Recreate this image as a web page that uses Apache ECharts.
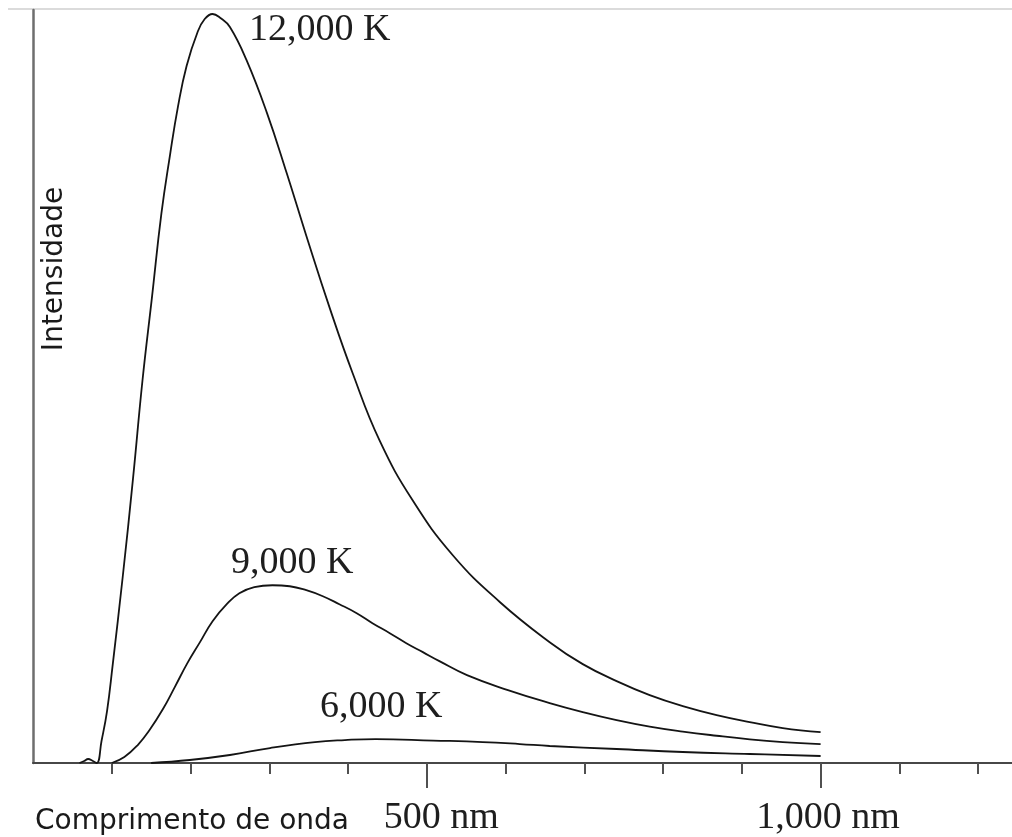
<!DOCTYPE html>
<html>
<head>
<meta charset="utf-8">
<script src="https://cdn.jsdelivr.net/npm/echarts@6/dist/echarts.min.js"></script>
<style>
  html, body { margin: 0; padding: 0; background: #fff; }
  #chart { width: 1012px; height: 837px; }
</style>
</head>
<body>
<div id="chart"></div>
<script>
// Blackbody spectral intensity curves, [wavelength (nm), relative intensity]
const curve12000K = [
  [59, 0], [65, 2], [70, 4], [76, 2], [81, 0], [87, 22], [94, 52], [101, 97],
  [114, 187], [127, 285], [139, 383], [151, 466], [163, 550], [174, 609],
  [184, 657], [195, 698], [209, 732], [218, 745], [228, 750], [238, 746],
  [250, 737], [271, 704], [297, 651], [322, 591], [347, 528], [377, 455],
  [406, 390], [440, 323], [482, 263], [533, 208], [593, 161], [656, 121],
  [698, 99], [741, 82], [783, 68], [825, 57], [868, 48], [910, 41],
  [952, 35], [1000, 31]
];
const curve9000K = [
  [100, 0], [116, 6], [133, 18], [148, 33], [165, 54], [180, 76], [196, 100],
  [212, 121], [228, 142], [246, 159], [262, 170], [281, 176], [304, 178],
  [326, 177], [347, 173], [368, 167], [389, 159], [411, 150], [431, 140],
  [453, 130], [474, 120], [495, 111], [516, 102], [551, 88], [603, 73],
  [656, 60], [698, 51], [741, 43], [783, 36.5], [825, 31.5], [868, 27.3],
  [910, 23.7], [952, 21], [1000, 19]
];
const curve6000K = [
  [150, 0], [199, 3], [250, 8], [301, 15], [358, 21], [396, 23], [435, 24],
  [508, 22.5], [571, 21], [618, 19], [656, 17], [741, 14], [825, 11],
  [910, 9], [1000, 7]
];

const seriesNames = ['12,000 K', '9,000 K', '6,000 K'];
// where each temperature caption sits, in data units
const captionAt = [[364, 734], [329, 200], [442, 56]];

const minorTickValues = [100, 200, 300, 400, 500, 600, 700, 800, 900, 1000, 1100, 1200];
const majorTickValues = [500, 1000];
const majorTickLabels = ['500 nm', '1,000 nm'];

const xLabel = 'Comprimento de onda';
const yLabel = 'Intensidade';

const serif = '"Liberation Serif", "Times New Roman", serif';
const sans = '"DejaVu Sans", sans-serif';

const chart = echarts.init(document.getElementById('chart'), null, { renderer: 'canvas' });

function curveSeries(name, data, at) {
  return {
    name: name,
    type: 'line',
    xAxisIndex: 0,
    data: data,
    showSymbol: false,
    smooth: 0.45,
    lineStyle: { color: '#141414', width: 1.8 },
    silent: true,
    markPoint: {
      silent: true,
      symbol: 'circle',
      symbolSize: 1,
      itemStyle: { color: 'rgba(0,0,0,0)' },
      label: {
        show: true,
        position: 'inside',
        formatter: name,
        fontFamily: serif,
        fontSize: 38,
        color: '#1e1e1e'
      },
      data: [{ coord: at }]
    }
  };
}

const option = {
  animation: false,
  backgroundColor: '#ffffff',
  grid: { left: 33, right: 0, top: 10, bottom: 73, containLabel: false },
  xAxis: [
    {
      type: 'value',
      min: 0,
      max: 1243,
      interval: 100,
      position: 'bottom',
      axisLine: { show: true, onZero: false, lineStyle: { color: '#474747', width: 2 } },
      axisTick: {
        show: true,
        customValues: minorTickValues,
        length: 11,
        lineStyle: { color: '#505050', width: 2 }
      },
      axisLabel: { show: false },
      splitLine: { show: false }
    },
    {
      type: 'value',
      min: 0,
      max: 1243,
      position: 'bottom',
      axisLine: { show: false, onZero: false },
      axisTick: {
        show: true,
        customValues: majorTickValues,
        length: 25,
        lineStyle: { color: '#505050', width: 2 }
      },
      axisLabel: {
        show: true,
        customValues: majorTickValues,
        margin: 36,
        formatter: function (v) {
          const i = majorTickValues.indexOf(v);
          return '{' + (i === 0 ? 'a' : 'b') + '|' + majorTickLabels[i] + '}';
        },
        rich: {
          a: { fontFamily: serif, fontSize: 38, color: '#1e1e1e', padding: [0, 0, 0, 29] },
          b: { fontFamily: serif, fontSize: 38, color: '#1e1e1e', padding: [0, 0, 0, 15] }
        }
      },
      splitLine: { show: false }
    }
  ],
  yAxis: {
    type: 'value',
    min: 0,
    max: 754,
    axisLine: { show: true, lineStyle: { color: '#6e6e6e', width: 2.5 } },
    axisTick: { show: false },
    axisLabel: { show: false },
    splitLine: { show: false }
  },
  graphic: [
    {
      type: 'line',
      silent: true,
      shape: { x1: 8, y1: 9, x2: 1012, y2: 9 },
      style: { stroke: '#cfcfcf', lineWidth: 1.5 }
    },
    {
      type: 'text',
      silent: true,
      x: 35,
      y: 822,
      style: {
        text: xLabel,
        font: '28px ' + sans,
        fill: '#1a1a1a',
        textAlign: 'left',
        textVerticalAlign: 'middle'
      }
    },
    {
      type: 'text',
      silent: true,
      x: 55,
      y: 269,
      rotation: Math.PI / 2,
      style: {
        text: yLabel,
        font: '28px ' + sans,
        fill: '#1a1a1a',
        textAlign: 'center',
        textVerticalAlign: 'middle'
      }
    }
  ],
  series: [
    curveSeries(seriesNames[0], curve12000K, captionAt[0]),
    curveSeries(seriesNames[1], curve9000K, captionAt[1]),
    curveSeries(seriesNames[2], curve6000K, captionAt[2])
  ]
};

chart.setOption(option);
</script>
</body>
</html>
